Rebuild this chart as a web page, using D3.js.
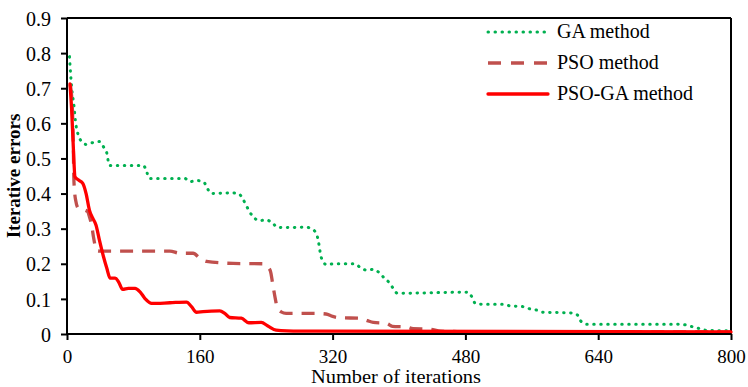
<!DOCTYPE html>
<html><head><meta charset="utf-8">
<script src="https://cdn.jsdelivr.net/npm/d3@7"></script>
<style>
html,body{margin:0;padding:0;background:#fff;}
svg text{font-family:"Liberation Serif","Tinos","Times New Roman","DejaVu Serif",serif !important;fill:#000;}
</style></head>
<body><svg id="c" width="748" height="387"></svg>
<script>
const xTicks = [0,160,320,480,640,800];
const yTicks = [0,0.1,0.2,0.3,0.4,0.5,0.6,0.7,0.8,0.9];
const seriesNames = ["GA method","PSO method","PSO-GA method"];
const gaIter = [3,5.5,8.5,10,13.5,17,23,31,39,44,48,51,92,96,99,142,148,157,165,169,174,199,207,212,216,220,225,232,240,248,254,288,296,301,304,306,313,321,347,353,361,369,376,382,388,393,398,483,488,492,500,525,534,549,557,566,574,608,615,619,626,735,745,753,761,769,800];
const gaErr  = [0.79,0.705,0.647,0.61,0.567,0.55,0.54,0.545,0.548,0.533,0.515,0.48,0.48,0.462,0.443,0.443,0.434,0.437,0.432,0.415,0.40,0.402,0.399,0.384,0.366,0.348,0.332,0.323,0.325,0.315,0.303,0.304,0.298,0.282,0.249,0.22,0.197,0.2,0.2,0.19,0.182,0.184,0.175,0.16,0.147,0.13,0.116,0.119,0.105,0.087,0.085,0.085,0.08,0.078,0.072,0.068,0.062,0.06,0.054,0.037,0.028,0.028,0.026,0.021,0.016,0.011,0.009];
const psoIter = [4,6.5,7.5,8.2,9,10.5,13.6,21.7,25,27,29.7,32,34,36,40,124,136,152,160,168,200,236,241,245,248,251,253,258,264,297,312,320,329,353,362,369,385,392,409,417,437,450,470,800];
const psoErr  = [0.71,0.64,0.55,0.448,0.41,0.38,0.358,0.353,0.348,0.334,0.31,0.275,0.25,0.237,0.236,0.236,0.23,0.23,0.216,0.207,0.201,0.2,0.192,0.18,0.14,0.1,0.078,0.063,0.059,0.059,0.057,0.05,0.046,0.045,0.038,0.033,0.03,0.022,0.02,0.015,0.014,0.008,0.007,0.006];
const hybIter = [3.6,5.6,7.6,9.6,13.6,19,23,27,31,35,39,44,48,52,58,62,67,74,82,88,94,102,124,144,150,156,164,184,190,196,210,219,234,242,252,265,300,800];
const hybErr  = [0.712,0.638,0.533,0.448,0.439,0.429,0.40,0.353,0.33,0.31,0.268,0.22,0.187,0.159,0.159,0.149,0.127,0.13,0.13,0.12,0.101,0.087,0.089,0.091,0.078,0.062,0.064,0.066,0.059,0.047,0.045,0.032,0.033,0.023,0.011,0.009,0.008,0.006];

const FONT = "'Liberation Serif', Tinos, 'Times New Roman', 'DejaVu Serif', serif";
const svg = d3.select("#c");
const L = 67, R = 731, T = 18, B = 334;
const x = d3.scaleLinear().domain([0,800]).range([L,R]);
const y = d3.scaleLinear().domain([0,0.9]).range([B,T]);

const styles = [
  {color:"#00b050", width:3, dash:"0.5 6.5", cap:"round"},
  {color:"#c0504d", width:3.3, dash:"13 9", cap:"butt"},
  {color:"#ff0000", width:3.3, dash:null, cap:"round"}
];
const data = [
  gaIter.map((d,i)=>[d,gaErr[i]]),
  psoIter.map((d,i)=>[d,psoErr[i]]),
  hybIter.map((d,i)=>[d,hybErr[i]])
];

svg.append("line").attr("x1",L).attr("x2",R).attr("y1",T).attr("y2",T).attr("stroke","#000").attr("stroke-width",2);
svg.append("line").attr("x1",R).attr("x2",R).attr("y1",T).attr("y2",B).attr("stroke","#000").attr("stroke-width",2);

const line = d3.line().x(d=>x(d[0])).y(d=>y(d[1])).curve(d3.curveMonotoneX);
data.forEach((ser,i)=>{
  const s = styles[i];
  const p = svg.append("path").datum(ser).attr("d",line).attr("fill","none")
    .attr("stroke",s.color).attr("stroke-width",s.width).attr("stroke-linecap",s.cap).attr("stroke-linejoin","round");
  if (s.dash) p.attr("stroke-dasharray",s.dash);
});

const xAxis = svg.append("g").attr("transform",`translate(0,${B})`)
  .call(d3.axisBottom(x).tickValues(xTicks).tickFormat(d3.format("d")).tickSize(6).tickSizeOuter(0));
const yAxis = svg.append("g").attr("transform",`translate(${L},0)`)
  .call(d3.axisLeft(y).tickValues(yTicks).tickFormat(d=>d===0?"0":d3.format(".1f")(d)).tickSize(6).tickSizeOuter(0));
[xAxis,yAxis].forEach(g=>{
  g.attr("font-family",FONT).attr("font-size",20);
  g.select(".domain").attr("stroke","#000").attr("stroke-width",2);
  g.selectAll(".tick line").attr("stroke","#000").attr("stroke-width",2);
  g.selectAll("text").style("font-family",FONT).style("font-size","20px").attr("fill","#000");
});
xAxis.select(".domain").attr("d",`M${L},0H${R}`);
yAxis.select(".domain").attr("d",`M0,${B}V${T}`);
xAxis.selectAll(".tick text").style("font-size","19px").attr("y",0).attr("dy",0).attr("transform","translate(0,29)");
yAxis.selectAll(".tick text").attr("x",-16).attr("dy","0.36em");

svg.append("text").attr("x",(L+R)/2-3).attr("y",383).attr("text-anchor","middle")
  .attr("textLength",170).attr("lengthAdjust","spacingAndGlyphs")
  .style("font-family",FONT).style("font-size","18px").text("Number of iterations");
svg.append("text").attr("transform",`translate(20,${(T+B)/2}) rotate(-90)`).attr("text-anchor","middle")
  .style("font-family",FONT).style("font-size","19px").style("font-weight","bold").text("Iterative errors");

const lg = svg.append("g");
seriesNames.forEach((n,i)=>{
  const yy = 32 + i*31;
  const s = styles[i];
  const l = lg.append("line").attr("x1",488).attr("x2",548).attr("y1",yy).attr("y2",yy)
    .attr("stroke",s.color).attr("stroke-width",s.width).attr("stroke-linecap",s.cap);
  if (s.dash) l.attr("stroke-dasharray", i===1 ? "13 10" : s.dash);
  lg.append("text").attr("x",557).attr("y",yy+6).style("font-family",FONT).style("font-size","20px").text(n);
});
</script></body></html>
